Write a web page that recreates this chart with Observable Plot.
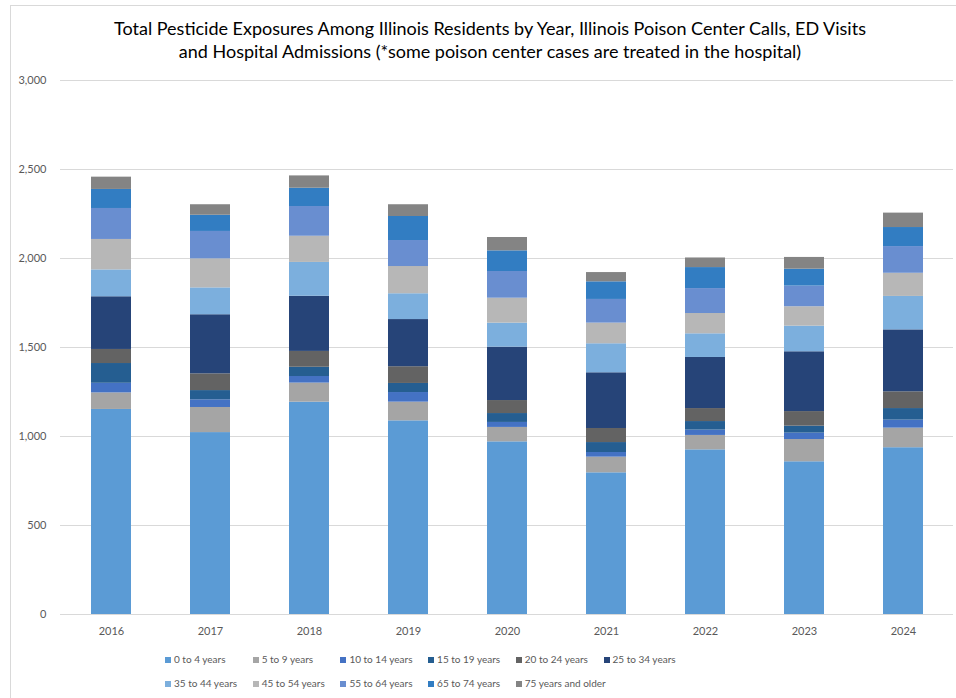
<!DOCTYPE html>
<html>
<head>
<meta charset="utf-8">
<script src="https://cdn.jsdelivr.net/npm/d3@7"></script>
<script src="https://cdn.jsdelivr.net/npm/@observablehq/plot@0.6"></script>
<style>
  body { margin: 0; background: #fff; font-family: Lato, "Noto Sans", sans-serif; }
  #wrap { position: relative; width: 956px; height: 698px; overflow: hidden; background: #fff; }
  #frame { position: absolute; left: 10px; top: 5px; width: 1000px; height: 800px; border: 1px solid #d9d9d9; box-sizing: border-box; }
  #title { position: absolute; left: 0; top: 17px; width: 980px; text-align: center; font-size: 18px; line-height: 23px; color: #000; }
  #chart { position: absolute; left: 0; top: 65px; }
  .lg { position: absolute; font-size: 10px; color: #595959; white-space: nowrap; line-height: 12px; }
  .lg span.sw { display: inline-block; width: 6px; height: 6px; margin-right: 3px; vertical-align: 0px; }
</style>
</head>
<body>
<div id="wrap">
  <div id="frame"></div>
  <div id="title">Total Pesticide Exposures Among Illinois Residents by Year, Illinois Poison Center Calls, ED Visits<br>and Hospital Admissions (*some poison center cases are treated in the hospital)</div>
  <div id="chart"></div>
  <div id="legend"></div>
</div>
<script>
const years = ["2016", "2017", "2018", "2019", "2020", "2021", "2022", "2023", "2024"];
const ageGroups = ["0 to 4 years", "5 to 9 years", "10 to 14 years", "15 to 19 years", "20 to 24 years", "25 to 34 years",
                   "35 to 44 years", "45 to 54 years", "55 to 64 years", "65 to 74 years", "75 years and older"];
const age0to4   = [1152, 1022, 1193, 1088, 970, 796, 925, 858, 937];
const age5to9   = [93, 141, 107, 105, 81, 88, 81, 125, 110];
const age10to14 = [54, 43, 37, 54, 28, 26, 30, 36, 45];
const age15to19 = [111, 52, 52, 51, 50, 56, 48, 39, 65];
const age20to24 = [79, 94, 89, 94, 73, 79, 73, 82, 94];
const age25to34 = [296, 332, 310, 265, 300, 313, 287, 336, 348];
const age35to44 = [151, 151, 190, 145, 135, 163, 133, 144, 188];
const age45to54 = [171, 163, 147, 153, 140, 116, 114, 109, 130];
const age55to64 = [174, 154, 167, 146, 150, 133, 140, 116, 150];
const age65to74 = [107, 91, 103, 135, 116, 99, 118, 95, 107];
const age75plus = [69, 59, 69, 66, 75, 52, 54, 66, 81];
const yTicks = [0, 500, 1000, 1500, 2000, 2500, 3000];

const seriesValues = [age0to4, age5to9, age10to14, age15to19, age20to24, age25to34,
                      age35to44, age45to54, age55to64, age65to74, age75plus];
const colors = ["#5B9BD5", "#A5A5A5", "#4472C4", "#255E91", "#636363", "#264478",
                "#7CAFDD", "#B7B7B7", "#698ED0", "#327DC2", "#848484"];

const data = [];
ageGroups.forEach((g, gi) => {
  years.forEach((yr, yi) => data.push({ year: yr, group: g, value: seriesValues[gi][yi] }));
});

const chart = Plot.plot({
  width: 956,
  height: 580,
  marginTop: 15,
  marginBottom: 31,
  marginLeft: 60,
  marginRight: 3,
  style: { fontFamily: "Lato, 'Noto Sans', sans-serif", fontSize: "11px", color: "#595959", background: "transparent" },
  x: { domain: years, paddingInner: 0.6, paddingOuter: 0.3, label: null },
  y: { domain: [0, 3000], label: null },
  color: { domain: ageGroups, range: colors },
  marks: [
    Plot.gridY(yTicks, { stroke: "#d9d9d9", strokeOpacity: 1, strokeWidth: 1 }),
    Plot.barY(data, { x: "year", y: "value", fill: "group", z: "group" }),
    Plot.ruleY([0], { stroke: "#d9d9d9", strokeWidth: 1 }),
    Plot.axisY(yTicks, { tickFormat: d3.format(","), tickSize: 0, tickPadding: 14, label: null, fill: "#595959" }),
    Plot.axisX({ tickSize: 0, tickPadding: 13, label: null, fill: "#595959" })
  ]
});
document.getElementById("chart").appendChild(chart);

const legend = document.getElementById("legend");
ageGroups.forEach((g, i) => {
  const col = i % 6, row = Math.floor(i / 6);
  const d = document.createElement("div");
  d.className = "lg";
  d.style.left = (165 + col * 87.7) + "px";
  d.style.top = (653 + row * 24) + "px";
  d.innerHTML = `<span class="sw" style="background:${colors[i]}"></span>${g}`;
  legend.appendChild(d);
});
</script>
</body>
</html>
